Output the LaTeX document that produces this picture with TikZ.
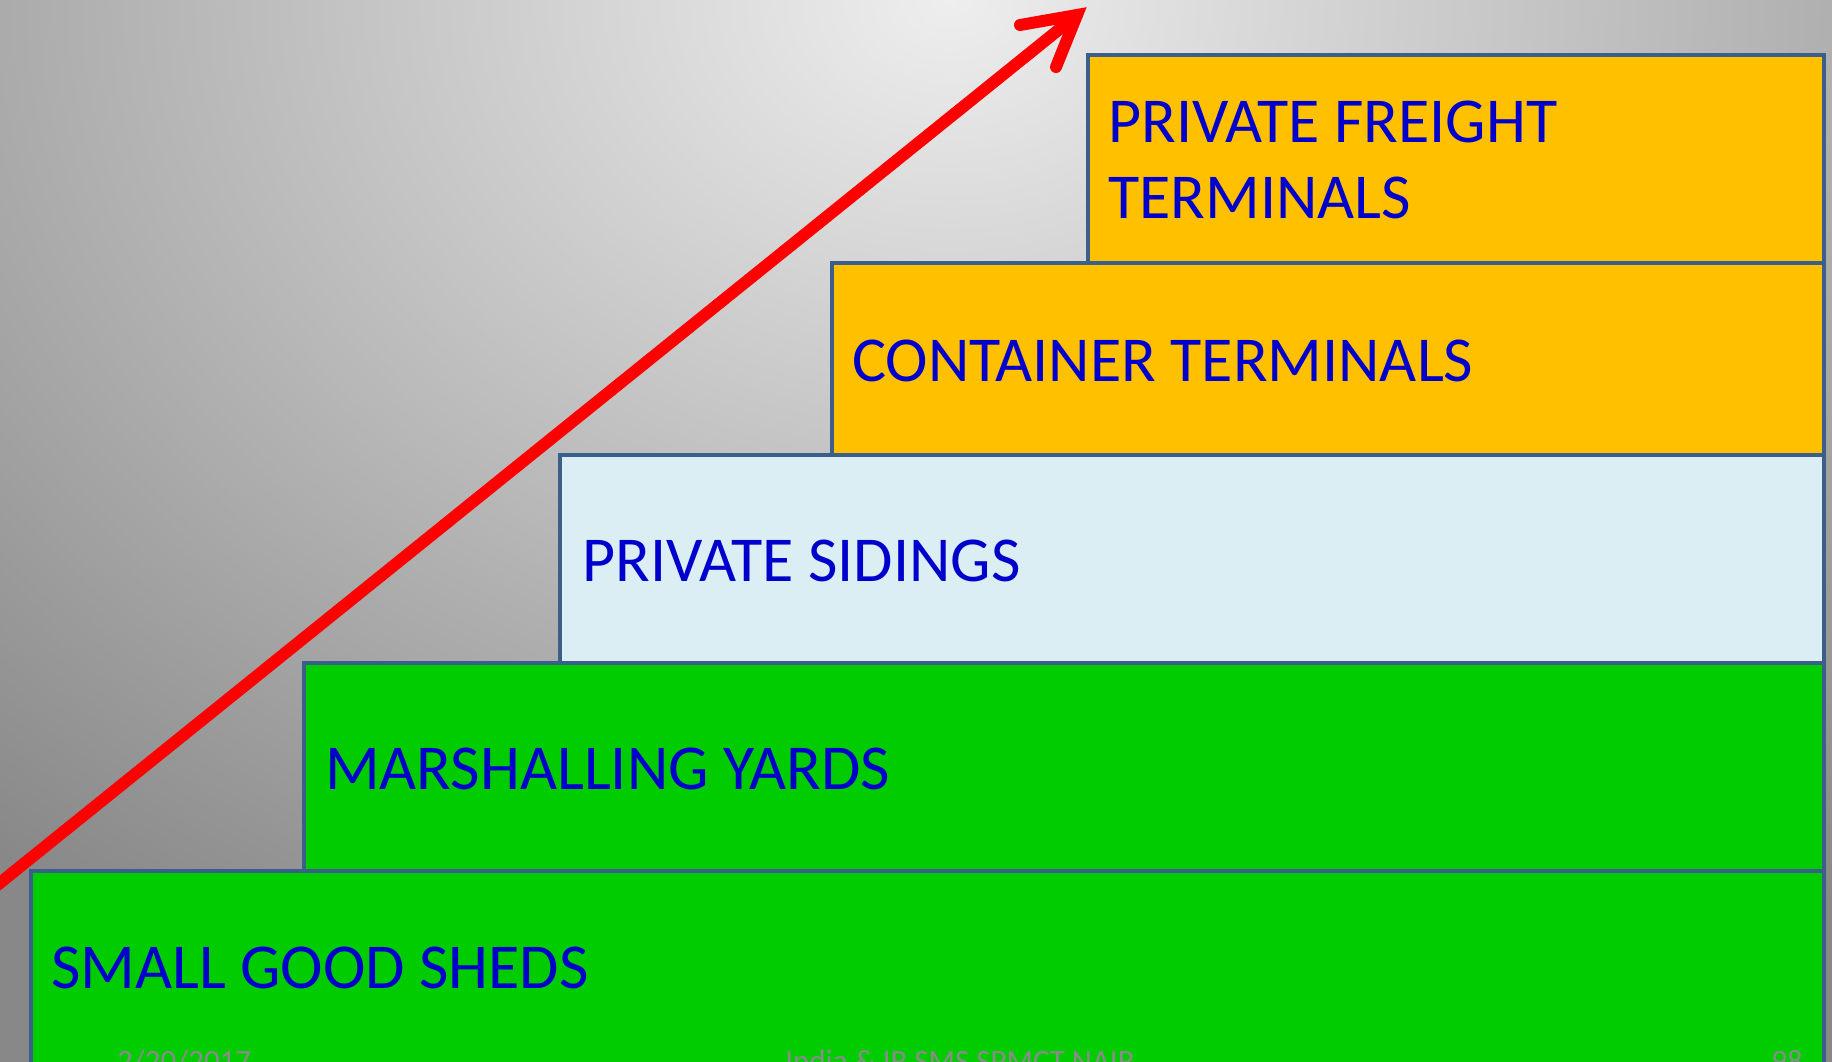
\documentclass[tikz,border=0pt]{standalone}
\usepackage{fontspec}
\setmainfont{Carlito}
\definecolor{bginner}{HTML}{EEEEEE}
\definecolor{bgouter}{HTML}{888888}
\definecolor{boxline}{HTML}{3A5F8A}
\definecolor{shedgreen}{HTML}{00CC00}
\definecolor{sidingblue}{HTML}{DAEEF3}
\definecolor{contorange}{HTML}{FFC000}
\definecolor{lbltext}{HTML}{0000CC}
\definecolor{foottext}{HTML}{8B8B8B}
\definecolor{arrowred}{HTML}{FF0000}
\begin{document}
\begin{tikzpicture}[x=1pt,y=-1pt,
  box/.style={draw=boxline, line width=4.5pt},
  lbl/.style={anchor=base west, inner sep=0pt, text=lbltext, font=\fontsize{64}{76}\selectfont},
  foot/.style={inner sep=0pt, text=foottext, font=\fontsize{31}{36}\selectfont},
  arrowline/.style={draw=arrowred, line width=12pt, line cap=round}]
\useasboundingbox (0,0) rectangle (1832,1061);
\begin{scope}
\clip (0,0) rectangle (1832,1061);
\shade[inner color=bginner, outer color=bgouter] (-490,-1136) rectangle (2390,1136);
% steps
\path[box, fill=shedgreen] (31,871) rectangle (1824,1100);
\path[box, fill=shedgreen] (304,663) rectangle (1824,871);
\path[box, fill=sidingblue] (560,455) rectangle (1824,663);
\path[box, fill=contorange] (832,263) rectangle (1824,455);
\path[box, fill=contorange] (1088,55) rectangle (1824,263);
% labels
\node[lbl] (sheds) at (51,988) {SMALL GOOD SHEDS};
\node[lbl] (yards) at (325,789) {MARSHALLING YARDS};
\node[lbl] (sidings) at (582,581) {PRIVATE SIDINGS};
\node[lbl] (container) at (852,381) {CONTAINER TERMINALS};
\node[lbl] (freightA) at (1108,142) {PRIVATE FREIGHT};
\node[lbl] (freightB) at (1108,218) {TERMINALS};
% footer
\node[foot, anchor=base west] (date) at (117,1071) {2/20/2017};
\node[foot, anchor=base] (author) at (960,1071) {India \& IR SMS SPMCT NAIR};
\node[foot, anchor=base east] (page) at (1803,1071) {98};
% arrow
\coordinate (astart) at (-20,899);
\coordinate (atip) at (1077,15);
\coordinate (barbA) at (1020,25);
\coordinate (barbB) at (1056,67);
\draw[arrowline] (astart) -- (atip);
\draw[arrowline, line join=miter] (barbA) -- (atip) -- (barbB);
\end{scope}
\end{tikzpicture}
\end{document}
